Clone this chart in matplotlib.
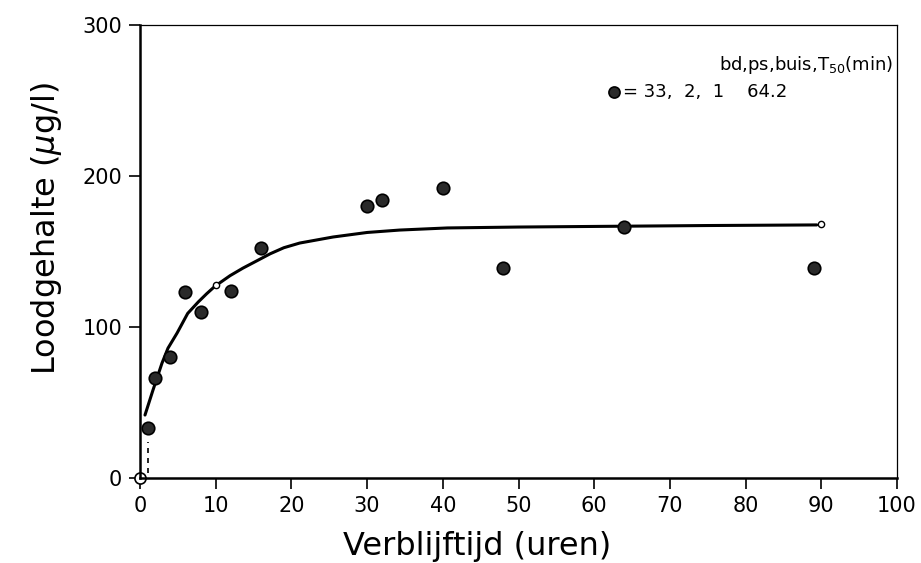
import numpy as np
import matplotlib.pyplot as plt

# measured points (hours, ug/l)
tijd = [1, 2, 4, 6, 8, 12, 16, 30, 32, 40, 48, 64, 89]
lood = [33, 66, 80, 123, 110, 124, 152, 180, 184, 192, 139, 166, 139]

# fitted curve
curve_t = [0.66, 1.7, 2.9, 3.7, 4.9, 6.3, 7.7, 8.8, 9.9, 11.9, 13.6, 15.5,
           17.2, 19.0, 21.1, 25.5, 30.0, 34.3, 40.6, 50.0, 62.5, 75.0, 89.4]
curve_c = [41.7, 58, 76, 86, 96, 109, 116.6, 122, 127, 134, 139, 144,
           148.5, 152.5, 155.6, 159.6, 162.6, 164.2, 165.6, 166.2, 166.7,
           167.2, 167.6]

# small open markers sitting on the curve
curve_mark_t = [10, 90]
curve_mark_c = [128, 168]

xticks = [0, 10, 20, 30, 40, 50, 60, 70, 80, 90, 100]
yticks = [0, 100, 200, 300]

plt.rcParams['font.family'] = ['DejaVu Sans']

fig = plt.figure(figsize=(9.21, 5.63), dpi=100)
ax = fig.add_axes([140/921, 1 - 478/563, 757/921, 453/563])

ax.plot(curve_t, curve_c, color='black', lw=2.2, solid_capstyle='round',
        solid_joinstyle='round')
ax.plot([1.1, 1.1], [3, 24], color='black', lw=1.2, ls=(0, (3, 3)))
ax.plot(curve_mark_t, curve_mark_c, 'o', ms=4.5, mfc='white', mec='black', mew=1)
ax.plot([0], [0], 'o', ms=8, mfc='white', mec='black', mew=1.2, clip_on=False)
ax.plot(tijd, lood, 'o', ms=9, mfc='#2a2a2a', mec='black', mew=1.2)

ax.set_xlim(0, 100)
ax.set_ylim(0, 300)
ax.set_xticks(xticks)
ax.set_yticks(yticks)
ax.tick_params(direction='out', length=8, width=1.2, labelsize=15, pad=5)

for s in ['left', 'bottom']:
    ax.spines[s].set_linewidth(1.8)
for s in ['top', 'right']:
    ax.spines[s].set_linewidth(0.9)

ax.set_xlabel('Verblijftijd (uren)', fontsize=23)
ax.set_ylabel('Loodgehalte ($\\mu$g/l)', fontsize=23)
ax.xaxis.set_label_coords(0.445, -0.118)
ax.yaxis.set_label_coords(-0.1, 0.55)

ax.text(0.995, 0.912, 'bd,ps,buis,T$_{50}$(min)', transform=ax.transAxes,
        ha='right', va='center', fontsize=13)
ax.plot([0.626], [0.851], 'o', ms=8, mfc='#2a2a2a', mec='black', mew=1.2,
        transform=ax.transAxes)
ax.text(0.638, 0.851, '= 33,  2,  1    64.2', transform=ax.transAxes,
        ha='left', va='center', fontsize=13)

fig.savefig('out.png', dpi=100)
